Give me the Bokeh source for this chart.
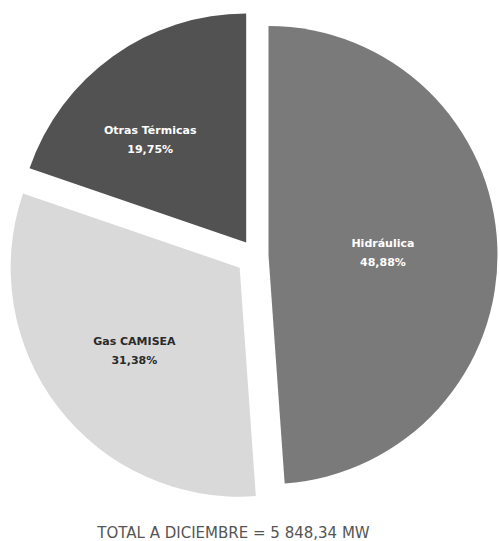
import numpy as np
from bokeh.plotting import figure
from bokeh.models import ColumnDataSource, Range1d
from bokeh.core.properties import value
from bokeh.embed import file_html
from bokeh.resources import INLINE

categories = ["Hidráulica", "Gas CAMISEA", "Otras Térmicas"]
percentages = [48.88, 31.38, 19.75]
pct_labels = ["48,88%", "31,38%", "19,75%"]
total_label = "TOTAL A DICIEMBRE = 5 848,34 MW"

colors = ["#7a7a7a", "#d9d9d9", "#525252"]
text_colors = ["#ffffff", "#2a2a2a", "#ffffff"]
explode = [13, 20, 16]
label_frac = [0.5, 0.58, 0.62]
label_ang_adj = [0.0, 0.0, -7.0]  # degrees

W, H = 499, 541
cx, cy = 255, H - 255
R = 229

vals = np.array(percentages, dtype=float)
frac = vals / vals.sum()
cum = np.concatenate([[0], np.cumsum(frac)])
start_cw = cum[:-1] * 2 * np.pi   # clockwise from top
end_cw = cum[1:] * 2 * np.pi
mid_cw = (start_cw + end_cw) / 2

xs = cx + np.array(explode) * np.sin(mid_cw)
ys = cy + np.array(explode) * np.cos(mid_cw)
start = np.pi / 2 - start_cw
end = np.pi / 2 - end_cw

src = ColumnDataSource(dict(x=xs, y=ys, start=start, end=end, color=colors))

lang = mid_cw + np.radians(label_ang_adj)
lx = xs + np.array(label_frac) * R * np.sin(lang)
ly = ys + np.array(label_frac) * R * np.cos(lang)
lab_src = ColumnDataSource(dict(x=lx, y=ly, name=categories, pct=pct_labels, tc=text_colors))

p = figure(width=W, height=H, output_backend="svg", toolbar_location=None,
           x_range=Range1d(0, W), y_range=Range1d(0, H), min_border=0)
p.axis.visible = False
p.grid.visible = False
p.outline_line_color = None
p.background_fill_color = "white"

p.wedge(x="x", y="y", radius=R, start_angle="start", end_angle="end",
        direction="clock", fill_color="color", line_color=None, source=src)

p.text(x="x", y="y", text="name", source=lab_src, text_color="tc",
       text_font=value("DejaVu Sans"), text_font_style="bold", text_font_size="11px",
       text_align="center", text_baseline="bottom", y_offset=-1)
p.text(x="x", y="y", text="pct", source=lab_src, text_color="tc",
       text_font=value("DejaVu Sans"), text_font_style="bold", text_font_size="11px",
       text_align="center", text_baseline="top", y_offset=5)

p.text(x=[233], y=[H - 532], text=[total_label], text_color="#555555",
       text_font=value("DejaVu Sans"), text_font_size="15px",
       text_align="center", text_baseline="middle")

open("out.html", "w").write(file_html(p, INLINE))
